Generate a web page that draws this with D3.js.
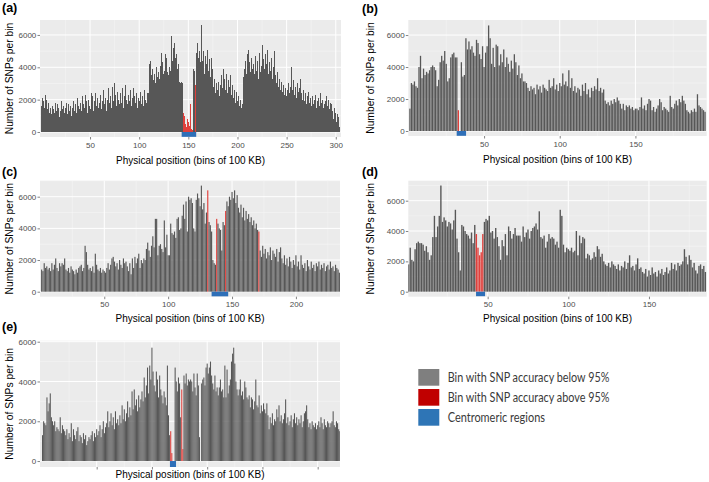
<!DOCTYPE html>
<html><head><meta charset="utf-8">
<script src="https://cdn.jsdelivr.net/npm/d3@7"></script>
<style>body{margin:0;background:#fff}svg{display:block}</style>
</head><body><svg id="chart" width="709" height="482"></svg>
<script>
// ---- data: SNP counts per 100 KB bin (bin 1..N) ----
const snpsA = [
1600,2100,1900,1500,2300,2000,1400,1800,1200,1500,
1100,1600,1400,1200,1800,1300,1700,1500,900,1300,
1900,1400,1600,1200,1500,1800,1100,1700,1300,1600,
1000,1500,1900,1300,1700,1200,2100,1600,1400,1800,
1300,2200,1700,1500,2300,1900,1200,2000,1600,1400,
2400,1700,2200,1300,1900,2400,1600,2100,1500,1800,
2300,1400,1900,2600,1700,2100,1300,2000,2700,1800,
2200,1500,2800,1900,3000,2300,1600,2500,2000,1700,
2400,1800,2700,1500,2200,2900,2000,1700,2300,1900,
2600,1600,2100,2700,2200,1800,2400,1500,2100,1900,
2500,1700,2200,1600,2600,2000,1800,2400,2400,4200,
3800,4400,3500,3900,3200,3600,3000,4000,3400,3700,
3300,4100,4900,4300,3600,3800,4800,4600,3700,3500,
4000,3800,5950,4400,5200,5500,4600,4800,3900,4200,
3100,3000,3100,3000,1200,1000,500,300,800,600,
400,1700,200,100,3900,3800,2900,4900,5500,4600,
5000,4300,6600,4400,5000,3600,4700,4200,5100,4800,
3800,4500,3400,4600,3900,2800,3300,2400,3000,2600,
3100,2200,2900,3500,2700,3900,3300,2600,3600,2400,
3200,2800,3500,2300,2900,2100,2600,1800,2500,1900,
2200,1600,2000,1500,1700,3400,3900,4400,3600,4800,
5100,4300,3700,4600,3900,4200,3600,4700,3800,4400,
3300,4900,3700,4100,5400,4500,3900,4800,3500,4200,
5100,3600,4300,3800,4600,3300,4000,5000,3500,3000,
3700,2800,3300,2600,3100,2500,2900,2300,2700,2200,
2600,3000,2400,2800,4000,2600,3200,2300,2800,2100,
3000,2500,2700,3300,2400,2000,2600,1900,2400,1700,
2200,2500,1800,2100,1600,2200,1700,2000,2300,1500,
1900,2100,1600,2400,1800,2000,1500,2300,1700,1900,
2200,1600,2000,1400,1800,1700,1300,800,1500,1200,
600,1100,900,300];
const snpsB = [
1400,3000,2900,3100,2800,2700,4000,4700,3300,3900,
3500,3700,3600,3800,4000,4100,4000,3800,2800,3200,
4300,4700,4400,5000,4200,3100,3300,4600,4800,4900,
4600,4600,1300,0,4300,3400,3500,5800,5100,5600,
5100,5300,4900,4700,5700,5500,4800,4500,5300,4000,
4900,5300,6600,5800,4200,5200,4000,5400,5300,4100,
4800,4300,5100,4000,4600,4200,3700,4400,3900,4800,
4300,3500,4100,3300,3600,3100,3100,3000,2700,2500,
2800,2600,2700,2300,2900,2600,2800,2400,2900,2700,
2600,2500,3200,2700,2800,3300,2600,2900,2500,3000,
2800,3600,2900,3100,2800,3800,2700,3300,2500,2800,
2400,2700,2600,2200,2900,2500,3000,2300,2600,2100,
2700,2500,2800,2600,3300,2500,2700,2400,2600,1900,
1700,1800,1600,1900,1700,2000,1800,2100,1900,1700,
1400,1700,1300,1600,1500,1600,1400,1500,1300,1400,
1400,1300,1500,2100,1400,1600,1300,1700,2000,1900,
1300,1500,1200,1400,1600,2000,1800,1300,1500,1400,
1300,1200,2200,1500,1400,1700,1900,1600,2000,1800,
2200,1900,1700,1300,1200,1100,1300,1200,1400,1200,
2300,1600,1500,1400,1300,1200];
const snpsC = [
1400,1300,1800,1500,1600,1400,1500,1300,1800,1400,
1700,2100,1500,1300,1800,1600,1800,1700,2100,1400,
1300,1500,1200,1600,1400,1300,1100,1400,1200,1500,
1600,1700,1300,1500,2900,2500,1700,1400,1500,1300,
1600,1200,2400,1700,1400,1300,1500,1200,1400,1300,
1200,1500,1800,1400,1700,2100,2200,1900,1600,1800,
1400,2000,1700,1500,2100,1800,1900,1600,1300,1800,
1100,2100,1500,2200,1800,2100,2400,1500,2000,1800,
2100,2000,2700,3100,2600,2200,2900,3500,2800,4600,
4600,2300,2900,3000,2700,2500,4500,2800,3600,2300,
2300,4300,3700,3600,3800,3400,4600,4700,3900,4000,
4800,5500,4600,5700,3800,6000,5800,5900,5600,4000,
3800,5800,6200,5900,5400,6700,5200,5600,4300,5000,
6400,4400,4200,3800,2000,1800,1700,4600,4300,4000,
3900,2600,4400,4200,5100,5700,5400,6000,5800,6300,
5900,6400,5600,6100,5300,5000,5500,4700,5300,4500,
5100,4600,4900,4400,4700,4200,4500,4000,4300,3900,
3800,2600,2200,2900,2400,2700,2100,2500,2300,2800,
2000,2600,2400,2200,2700,1900,2500,2800,2100,1800,
2300,1700,2100,1600,2200,1900,1500,2000,1700,2300,
1600,1900,1400,2300,1700,1500,1800,1300,2000,1600,
1400,1900,1500,1700,1300,1800,1600,1900,1400,1700,
1500,1800,1300,1600,1700,1400,1900,1500,1600,1300,
1700,1500,1400,1200];
const snpsD = [
1800,2900,2100,2000,2800,3200,3300,3200,3200,3100,
2700,3000,2600,2100,2400,3600,5000,3600,4300,5000,
7000,4600,4900,4700,4300,4600,4500,4100,4700,5400,
3500,2600,1400,4400,4300,4000,3800,3700,3500,3900,
3200,4400,3800,2900,2400,2600,3800,4600,4800,4700,
5000,3900,4000,3500,4200,3600,3000,2100,3400,3000,
3800,2400,4300,4000,3500,3800,4200,3700,3700,3700,
3300,4300,3600,3900,4100,3500,4000,4200,4300,4500,
4100,5300,3600,3500,3700,2900,3300,3800,3500,3600,
3500,3100,3300,2900,5400,5000,3100,2600,2900,2800,
2700,2900,2600,2700,4000,2400,3700,3200,3600,3500,
2200,2500,2400,2100,2200,2600,2300,3000,2800,2300,
2500,2000,1800,1700,1900,1600,2000,1800,1700,1500,
1800,1400,1700,1600,2000,1500,1900,2400,1600,1700,
1400,1800,2200,1500,1600,1300,1200,1500,1000,1400,
1100,1600,1200,1300,1000,1400,1200,1500,1100,1300,
1600,1200,1400,1900,1500,1800,1400,1900,1700,1800,
2000,2800,2300,1800,2400,2100,1600,1900,1400,1200,
1700,1800,1500,1700,1300];
const snpsE = [
1300,2000,1900,1800,3200,2500,2900,3400,2200,2000,
1800,2000,1500,1700,1600,1500,2200,1400,1800,1600,
1500,1300,1600,1100,1400,1200,1900,1000,1600,1300,
1100,1500,1700,1000,1300,1200,900,1400,1100,1300,
800,1000,1200,1100,1300,1500,1000,1400,1200,1600,
1300,1500,1800,1200,1600,2000,1400,1700,1900,2500,
1700,2000,2400,1800,2200,1600,2500,1900,2100,1800,
2300,1900,2800,2100,2600,2000,2400,3000,2200,2700,
2300,3500,2600,3600,2800,3100,2500,3300,2700,3100,
3500,3000,4200,3200,3800,4700,3400,4800,4100,5700,
4500,3800,3500,4500,4100,3200,4300,3600,3300,2900,
3500,3200,2800,4800,2300,1300,1500,400,0,0,
4700,4000,3500,4200,3900,2200,3600,600,4300,3900,
4400,3800,4100,4000,4100,4000,3500,4400,3700,3300,
4400,3800,1200,0,3900,4100,4200,3800,4700,4900,
4400,4700,5000,4300,3900,3600,4300,3500,3700,3300,
3700,4100,3500,3600,3200,4800,3200,4600,3400,3800,
4100,5000,5400,5700,4900,4000,3600,3300,3600,4100,
3300,3500,3100,4000,3700,3200,3100,3300,2700,3200,
3100,2600,3000,4100,2800,2700,3300,2400,2800,2500,
2900,2600,2400,2900,2300,1600,2200,1900,2400,1800,
2100,2000,2600,2200,2800,2000,2300,1900,2100,2400,
3100,1900,2200,1800,2000,2300,1700,2100,2400,1900,
2200,1800,2100,1900,2300,1700,2000,2400,2500,2800,
2100,1700,1900,1600,2000,1800,1700,1900,1600,1800,
2000,1700,2200,1900,1600,2100,1800,1700,2000,1900,
1700,1900,2000,2500,1800,1700,2000,1900,1600,1500];

// bins with SNP accuracy above 95%
const highA = [145,146,147,148,149,150,151,152,153,154,157];
const highB = [33];
const highC = [131,138,145,171];
const highD = [43,44,45,46,47];
const highE = [117,118,127,128];

// centromeric regions [start, end] in bin units, drawn below zero
const centA = [143.2, 158];
const centB = [31.9, 38.1];
const centC = [134, 147];
const centD = [42.8, 48.4];
const centE = [116.3, 121.8];
const centDepth = -300;

// tick labels
const xTicksA = [50,100,150,200,250,300];
const xTicksB = [50,100,150];
const xTicksC = [50,100,150,200];
const xTicksD = [50,100,150];
const xTicksE = [50,100,150,200,250];
const yTicks = [0,2000,4000,6000];
const yMinor = [1000,3000,5000,7000];

const legendLabels = ["Bin with SNP accuracy below 95%","Bin with SNP accuracy above 95%","Centromeric regions"];
const legendColors = ["#7f7f7f","#c00000","#2e75b6"];

const xTitle = "Physical position (bins of 100 KB)";
const yTitle = "Number of SNPs per bin";

const COL_GRAY = "#575757", COL_RED = "#e0403c", COL_BLUE = "#2e6fb8";

const panels = [
 {tag:"(a)", v:snpsA, hi:highA, cent:centA, xt:xTicksA, lab:true, bf:1.0, crisp:true,
  L:40, R:341, T:20, B:137, yd:[-310,6925], xd:[-0.9,305.3], tx:2, ty:12, xTitleY:164, yTitleX:9},
 {tag:"(b)", v:snpsB, hi:highB, cent:centB, xt:xTicksB, lab:true, bf:0.85, crisp:false,
  L:408.3, R:706.7, T:20, B:136, yd:[-312,6940], xd:[-0.07,197.1], tx:362, ty:12.5, xTitleY:163, yTitleX:370},
 {tag:"(c)", v:snpsC, hi:highC, cent:centC, xt:xTicksC, lab:true, bf:0.9, crisp:false,
  L:40, R:340, T:180.7, B:296.7, yd:[-316,7010], xd:[-0.3,234.5], tx:2, ty:176, xTitleY:322, yTitleX:9},
 {tag:"(d)", v:snpsD, hi:highD, cent:centD, xt:xTicksD, lab:true, bf:0.85, crisp:false,
  L:408.3, R:706.7, T:180.7, B:296.7, yd:[-330,7318], xd:[0.8,185.8], tx:362, ty:176, xTitleY:322, yTitleX:370},
 {tag:"(e)", v:snpsE, hi:highE, cent:centE, xt:xTicksE, lab:false, bf:0.95, crisp:false,
  L:40, R:340, T:340.7, B:467, yd:[-300,6050], xd:[-1.3,270.2], tx:2, ty:331, xTitleY:478, yTitleX:9}
];

const svg = d3.select("#chart");
const FONT = "'Liberation Sans', Arial, sans-serif";

panels.forEach(p => {
  const x = d3.scaleLinear().domain(p.xd).range([p.L, p.R]);
  const y = d3.scaleLinear().domain(p.yd).range([p.B, p.T]);
  const g = svg.append("g");
  const clipId = "clip" + p.tag.replace(/\W/g,"");
  g.append("clipPath").attr("id", clipId).append("rect")
    .attr("x", p.L).attr("y", p.T).attr("width", p.R - p.L).attr("height", p.B - p.T);
  g.append("rect").attr("x", p.L).attr("y", p.T).attr("width", p.R - p.L).attr("height", p.B - p.T)
    .attr("fill", "#ebebeb");
  // minor grid
  const xMinor = [];
  const step = p.xt[1] - p.xt[0];
  for (let t = p.xt[0] - step/2; t <= p.xd[1]; t += step) if (t >= p.xd[0]) xMinor.push(t);
  g.selectAll(null).data(yMinor.filter(v => v > p.yd[0] && v < p.yd[1])).join("line")
    .attr("x1", p.L).attr("x2", p.R).attr("y1", d => y(d)).attr("y2", d => y(d))
    .attr("stroke", "#f7f7f7").attr("stroke-width", 0.5);
  g.selectAll(null).data(xMinor).join("line")
    .attr("y1", p.T).attr("y2", p.B).attr("x1", d => x(d)).attr("x2", d => x(d))
    .attr("stroke", "#f7f7f7").attr("stroke-width", 0.5);
  // major grid
  g.selectAll(null).data(yTicks).join("line")
    .attr("x1", p.L).attr("x2", p.R).attr("y1", d => y(d)).attr("y2", d => y(d))
    .attr("stroke", "#fff").attr("stroke-width", 1);
  g.selectAll(null).data(p.xt).join("line")
    .attr("y1", p.T).attr("y2", p.B).attr("x1", d => x(d)).attr("x2", d => x(d))
    .attr("stroke", "#fff").attr("stroke-width", 1);
  // bars
  const bars = p.v.map((val, i) => ({bin: i + 1, val, hi: p.hi.includes(i + 1)}));
  const bw = x(p.bf) - x(0);
  g.append("g").attr("clip-path", `url(#${clipId})`)
    .attr("shape-rendering", p.crisp ? "crispEdges" : "auto")
    .selectAll("rect").data(bars).join("rect")
    .attr("x", d => x(d.bin - p.bf / 2)).attr("width", bw)
    .attr("y", d => y(d.val)).attr("height", d => Math.max(0, y(0) - y(d.val)))
    .attr("fill", d => d.hi ? COL_RED : COL_GRAY);
  // centromere
  g.append("rect").attr("clip-path", `url(#${clipId})`)
    .attr("x", x(p.cent[0])).attr("width", x(p.cent[1]) - x(p.cent[0]))
    .attr("y", y(0)).attr("height", y(centDepth) - y(0)).attr("fill", COL_BLUE);
  // axes
  const ya = g.append("g").attr("transform", `translate(${p.L},0)`)
    .call(d3.axisLeft(y).tickValues(yTicks).tickSize(2.5).tickPadding(1.2).tickFormat(d3.format("d")));
  const xa = g.append("g").attr("transform", `translate(0,${p.B})`)
    .call(d3.axisBottom(x).tickValues(p.xt).tickSize(2.5).tickPadding(2.5)
      .tickFormat(p.lab ? d3.format("d") : () => ""));
  [ya, xa].forEach(a => {
    a.select(".domain").remove();
    a.selectAll(".tick line").attr("stroke", "#333").attr("stroke-width", 0.6);
    a.selectAll(".tick text").attr("fill", "#4d4d4d").style("font-family", FONT).style("font-size", "8px");
  });
  // titles
  svg.append("text").attr("x", (p.L + p.R) / 2).attr("y", p.xTitleY).attr("text-anchor", "middle")
    .style("font-family", FONT).style("font-size", "10px").attr("fill", "#000").text(xTitle);
  svg.append("text").attr("transform", `translate(${p.yTitleX},${(p.T + p.B) / 2}) rotate(-90)`)
    .attr("text-anchor", "middle").attr("dy", "0.35em")
    .style("font-family", FONT).style("font-size", "10.3px").attr("fill", "#000").text(yTitle);
  svg.append("text").attr("x", p.tx).attr("y", p.ty)
    .style("font-family", FONT).style("font-size", "12.5px").style("font-weight", "bold")
    .attr("fill", "#000").text(p.tag);
});

// legend
const lg = svg.append("g");
const legY = [369, 389, 409];
lg.selectAll("rect").data(legendColors).join("rect")
  .attr("x", 418.3).attr("y", (d, i) => legY[i]).attr("width", 21).attr("height", 16.7).attr("fill", d => d);
const legW = [161.7, 161.7, 97.3];
lg.selectAll("text").data(legendLabels).join("text")
  .attr("x", 447.7).attr("y", (d, i) => legY[i] + 13.2)
  .attr("textLength", (d, i) => legW[i]).attr("lengthAdjust", "spacingAndGlyphs")
  .style("font-family", "Lato, 'Open Sans', sans-serif").style("font-size", "12.5px")
  .attr("fill", "#3a3a3a").text(d => d);
</script></body></html>
